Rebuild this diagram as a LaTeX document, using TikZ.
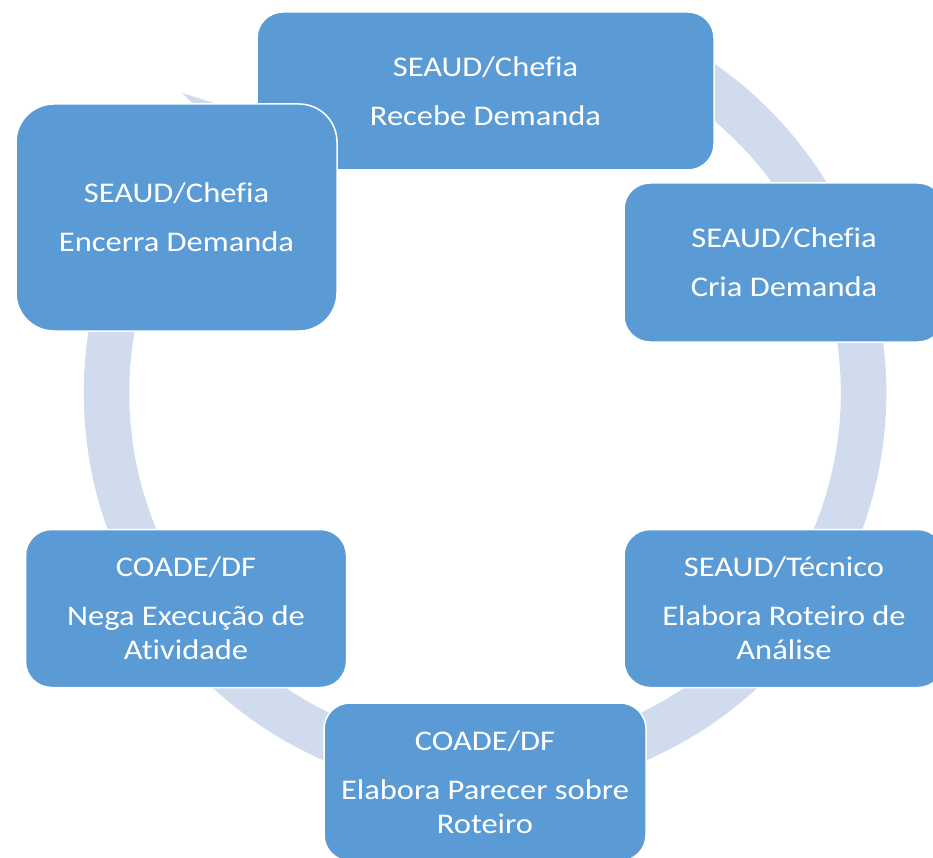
\documentclass[tikz,border=0pt]{standalone}
\usepackage{fontspec}
\setmainfont{Carlito}[FakeStretch=1.14, Ligatures=NoCommon]
\definecolor{boxblue}{RGB}{91,155,213}
\definecolor{ringblue}{RGB}{208,220,238}
\begin{document}
\begin{tikzpicture}[x=1pt,y=-1pt,
  stepbox/.style={rectangle, rounded corners=26pt, fill=boxblue, draw=white,
    line width=1.5pt, text=white, align=center,
    font=\fontsize{28.5}{34}\selectfont, inner sep=0pt},
  ringarc/.style={draw=ringblue, line width=45.5pt},
  ringhead/.style={fill=ringblue}]
\useasboundingbox (0,0) rectangle (933,858);
\clip (0,0) rectangle (933,858);
\coordinate (c) at (485,393);
% circular arrow (ring)
\draw[ringarc] (c) ++(-70:378.5) arc[start angle=-70, end angle=224.7, radius=378.5];
\coordinate (h1) at (182,93);
\coordinate (h2) at (230,108);
\coordinate (h3) at (245,155);
\fill[ringhead] (h1) -- (h2) -- (h3) -- cycle;
% steps
\node[stepbox, minimum width=457pt, minimum height=158pt] (recebe) at (485.5,91)
  {SEAUD/Chefia\\[15pt]Recebe Demanda};
\node[stepbox, minimum width=320pt, minimum height=159pt] (cria) at (784,262.5)
  {SEAUD/Chefia\\[15pt]Cria Demanda};
\node[stepbox, minimum width=320pt, minimum height=158pt] (roteiro) at (784,608.5)
  {SEAUD/Técnico\\[15pt]Elabora Roteiro de\\Análise};
\node[stepbox, minimum width=322pt, minimum height=158pt] (parecer) at (485,782)
  {COADE/DF\\[15pt]Elabora Parecer sobre\\Roteiro};
\node[stepbox, minimum width=321pt, minimum height=158pt] (nega) at (186,608.5)
  {COADE/DF\\[15pt]Nega Execução de\\Atividade};
\node[stepbox, rounded corners=38pt, minimum width=321pt, minimum height=227pt] (encerra) at (176.5,217.5)
  {SEAUD/Chefia\\[15pt]Encerra Demanda};
\end{tikzpicture}
\end{document}
